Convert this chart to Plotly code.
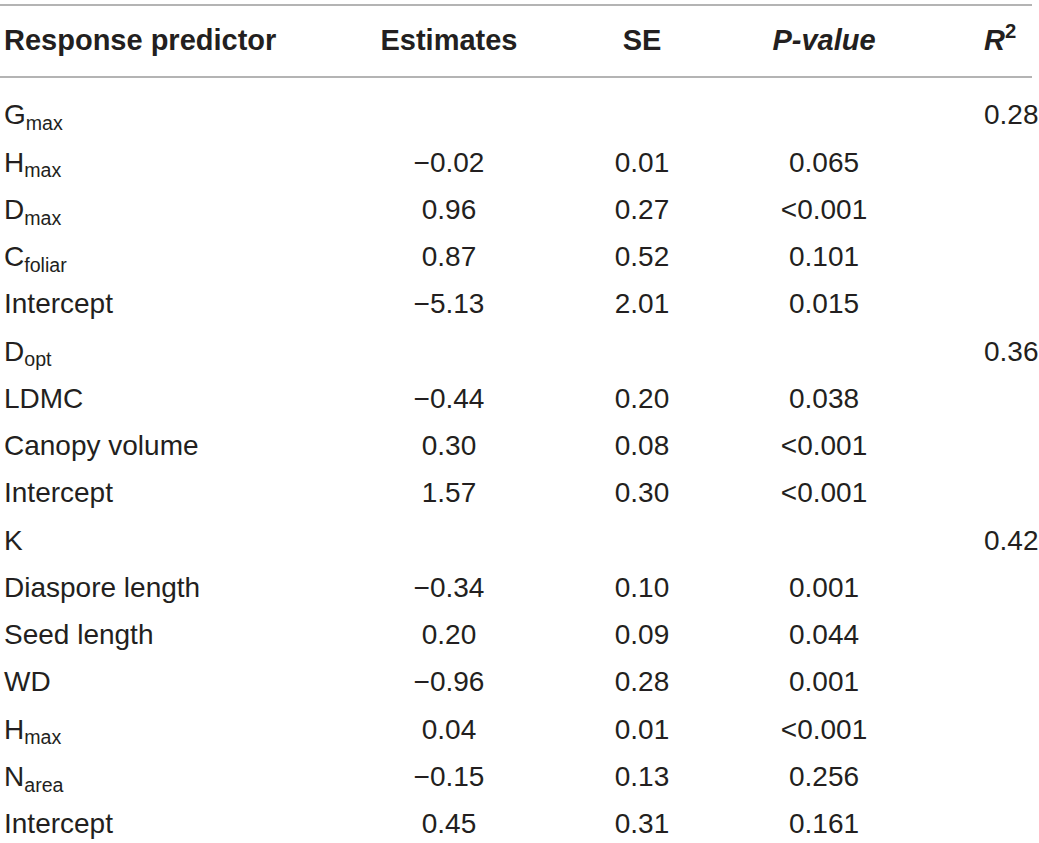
import plotly.graph_objects as go

# table content
headers = ["<b>Response predictor</b>", "<b>Estimates</b>", "<b>SE</b>",
           "<b><i>P-value</i></b>", "<b><i>R</i><sup>2</sup></b>"]

predictors = ["G<sub>max</sub>", "H<sub>max</sub>", "D<sub>max</sub>", "C<sub>foliar</sub>",
              "Intercept", "D<sub>opt</sub>", "LDMC", "Canopy volume", "Intercept", "K",
              "Diaspore length", "Seed length", "WD", "H<sub>max</sub>", "N<sub>area</sub>",
              "Intercept"]
estimates = ["", "−0.02", "0.96", "0.87", "−5.13", "", "−0.44", "0.30", "1.57", "",
             "−0.34", "0.20", "−0.96", "0.04", "−0.15", "0.45"]
se = ["", "0.01", "0.27", "0.52", "2.01", "", "0.20", "0.08", "0.30", "",
      "0.10", "0.09", "0.28", "0.01", "0.13", "0.31"]
pvalues = ["", "0.065", "<0.001", "0.101", "0.015", "", "0.038", "<0.001", "<0.001", "",
           "0.001", "0.044", "0.001", "<0.001", "0.256", "0.161"]
r2 = ["0.28", "", "", "", "", "0.36", "", "", "", "0.42", "", "", "", "", "", ""]

rows = list(range(len(predictors)))

# layout (pixels)
W, H = 1039, 843
row0 = 117.25      # centre of first body row
step = 47.25       # row pitch
header_y = (43 - row0) / step
rule_top = (5 - row0) / step
rule_mid = (77 - row0) / step
y_top = -row0 / step
y_bot = (H - row0) / step

col_x = [4, 449, 642, 824, 984]
col_pos = ["middle right", "middle center", "middle center", "middle center", "middle right"]
columns = [predictors, estimates, se, pvalues, r2]

family = "Liberation Sans, Arial, Helvetica, sans-serif"
body_font = dict(family=family, size=28, color="#231f20")
head_font = dict(family=family, size=29, color="#231f20")

fig = go.Figure()
for x, pos, col, head in zip(col_x, col_pos, columns, headers):
    ys = [r for r, v in zip(rows, col) if v]
    vals = [v for v in col if v]
    fig.add_trace(go.Scatter(
        x=[x] * len(vals), y=ys, text=vals, mode="text",
        textposition=pos, textfont=body_font, hoverinfo="skip", showlegend=False))
    fig.add_trace(go.Scatter(
        x=[x], y=[header_y], text=[head], mode="text",
        textposition=pos, textfont=head_font, hoverinfo="skip", showlegend=False))

for yy in [rule_top, rule_mid]:
    fig.add_shape(type="line", x0=0, x1=1032, y0=yy, y1=yy,
                  line=dict(color="#b4b4b4", width=2))

fig.update_xaxes(range=[0, W], visible=False, fixedrange=True)
fig.update_yaxes(range=[y_bot, y_top], visible=False, fixedrange=True)
fig.update_layout(
    width=W, height=H,
    margin=dict(l=0, r=0, t=0, b=0),
    plot_bgcolor="white", paper_bgcolor="white",
)

fig.write_html("out.html", config={"displayModeBar": False},
               post_script="document.body.style.margin='0';document.body.style.overflow='hidden';")
